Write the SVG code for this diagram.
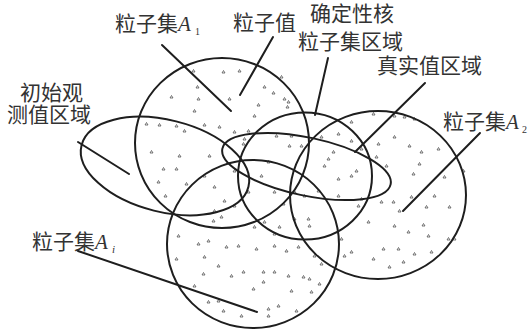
<svg xmlns="http://www.w3.org/2000/svg" width="529" height="333" viewBox="0 0 529 333">
<style>
.r{fill:none;stroke:#1e1e1e;stroke-width:2}
.l{fill:none;stroke:#1e1e1e;stroke-width:2;stroke-linecap:round}
.t{font-family:"Noto Sans CJK SC","Noto Sans CJK JP",sans-serif;font-size:21px;fill:#333}
.a{font-family:"Liberation Serif",serif;font-style:italic;font-size:21px;fill:#333}
.s{font-family:"Liberation Serif",serif;font-size:10px;fill:#333}
.si{font-family:"Liberation Serif",serif;font-style:italic;font-size:11px;fill:#333}
.p{fill:none;stroke:#444;stroke-width:0.7}
</style>
<rect width="529" height="333" fill="#fff"/>
<g id="particles">
<path class="p" d="M192 72l1.5-2.5 1.5 2.5zM222 73l1.5-2.5 1.5 2.5zM238 72l1.5-2.5 1.5 2.5zM280 78l1.5-2.5 1.5 2.5zM196 88l1.5-2.5 1.5 2.5zM170 98l1.5-2.5 1.5 2.5zM197 100l1.5-2.5 1.5 2.5zM228 100l1.5-2.5 1.5 2.5zM263 88l1.5-2.5 1.5 2.5zM272 94l1.5-2.5 1.5 2.5zM283 100l1.5-2.5 1.5 2.5zM287 103l1.5-2.5 1.5 2.5zM286 108l1.5-2.5 1.5 2.5zM193 112l1.5-2.5 1.5 2.5zM253 117l1.5-2.5 1.5 2.5zM257 106l1.5-2.5 1.5 2.5zM145 125l1.5-2.5 1.5 2.5zM158 126l1.5-2.5 1.5 2.5zM175 127l1.5-2.5 1.5 2.5zM203 126l1.5-2.5 1.5 2.5zM218 128l1.5-2.5 1.5 2.5zM233 133l1.5-2.5 1.5 2.5zM247 132l1.5-2.5 1.5 2.5zM150 153l1.5-2.5 1.5 2.5zM178 157l1.5-2.5 1.5 2.5zM208 157l1.5-2.5 1.5 2.5zM183 132l1.5-2.5 1.5 2.5zM162 170l1.5-2.5 1.5 2.5zM175 170l1.5-2.5 1.5 2.5zM185 185l1.5-2.5 1.5 2.5zM157 183l1.5-2.5 1.5 2.5zM203 177l1.5-2.5 1.5 2.5zM213 188l1.5-2.5 1.5 2.5zM223 202l1.5-2.5 1.5 2.5zM164 197l1.5-2.5 1.5 2.5zM233 172l1.5-2.5 1.5 2.5zM213 212l1.5-2.5 1.5 2.5zM212 222l1.5-2.5 1.5 2.5zM220 218l1.5-2.5 1.5 2.5z
M372 115l1.5-2.5 1.5 2.5zM393 117l1.5-2.5 1.5 2.5zM403 118l1.5-2.5 1.5 2.5zM413 120l1.5-2.5 1.5 2.5zM350 123l1.5-2.5 1.5 2.5zM337 135l1.5-2.5 1.5 2.5zM393 138l1.5-2.5 1.5 2.5zM408 147l1.5-2.5 1.5 2.5zM420 153l1.5-2.5 1.5 2.5zM377 145l1.5-2.5 1.5 2.5zM350 142l1.5-2.5 1.5 2.5zM360 150l1.5-2.5 1.5 2.5zM375 158l1.5-2.5 1.5 2.5zM385 167l1.5-2.5 1.5 2.5zM418 165l1.5-2.5 1.5 2.5zM412 175l1.5-2.5 1.5 2.5zM437 150l1.5-2.5 1.5 2.5zM443 178l1.5-2.5 1.5 2.5zM462 172l1.5-2.5 1.5 2.5zM380 203l1.5-2.5 1.5 2.5zM392 203l1.5-2.5 1.5 2.5zM410 198l1.5-2.5 1.5 2.5zM425 208l1.5-2.5 1.5 2.5zM433 197l1.5-2.5 1.5 2.5zM448 208l1.5-2.5 1.5 2.5zM398 212l1.5-2.5 1.5 2.5zM357 207l1.5-2.5 1.5 2.5zM367 223l1.5-2.5 1.5 2.5zM393 227l1.5-2.5 1.5 2.5zM407 233l1.5-2.5 1.5 2.5zM422 226l1.5-2.5 1.5 2.5zM427 237l1.5-2.5 1.5 2.5zM447 240l1.5-2.5 1.5 2.5zM453 240l1.5-2.5 1.5 2.5zM430 253l1.5-2.5 1.5 2.5zM413 255l1.5-2.5 1.5 2.5zM382 250l1.5-2.5 1.5 2.5zM397 250l1.5-2.5 1.5 2.5zM372 260l1.5-2.5 1.5 2.5zM388 268l1.5-2.5 1.5 2.5zM402 263l1.5-2.5 1.5 2.5zM350 253l1.5-2.5 1.5 2.5zM340 240l1.5-2.5 1.5 2.5zM343 257l1.5-2.5 1.5 2.5z
M177 237l1.5-2.5 1.5 2.5zM197 245l1.5-2.5 1.5 2.5zM207 242l1.5-2.5 1.5 2.5zM225 248l1.5-2.5 1.5 2.5zM237 247l1.5-2.5 1.5 2.5zM255 250l1.5-2.5 1.5 2.5zM273 247l1.5-2.5 1.5 2.5zM285 252l1.5-2.5 1.5 2.5zM297 248l1.5-2.5 1.5 2.5zM175 260l1.5-2.5 1.5 2.5zM203 258l1.5-2.5 1.5 2.5zM217 267l1.5-2.5 1.5 2.5zM230 277l1.5-2.5 1.5 2.5zM242 273l1.5-2.5 1.5 2.5zM262 273l1.5-2.5 1.5 2.5zM262 283l1.5-2.5 1.5 2.5zM252 290l1.5-2.5 1.5 2.5zM273 273l1.5-2.5 1.5 2.5zM287 277l1.5-2.5 1.5 2.5zM302 278l1.5-2.5 1.5 2.5zM308 280l1.5-2.5 1.5 2.5zM318 285l1.5-2.5 1.5 2.5zM193 287l1.5-2.5 1.5 2.5zM202 275l1.5-2.5 1.5 2.5zM290 292l1.5-2.5 1.5 2.5zM310 293l1.5-2.5 1.5 2.5zM207 303l1.5-2.5 1.5 2.5zM217 302l1.5-2.5 1.5 2.5zM222 312l1.5-2.5 1.5 2.5zM240 317l1.5-2.5 1.5 2.5zM267 310l1.5-2.5 1.5 2.5zM277 307l1.5-2.5 1.5 2.5zM267 317l1.5-2.5 1.5 2.5zM295 312l1.5-2.5 1.5 2.5zM320 265l1.5-2.5 1.5 2.5zM313 257l1.5-2.5 1.5 2.5z
M267 163l1.5-2.5 1.5 2.5zM290 137l1.5-2.5 1.5 2.5zM275 137l1.5-2.5 1.5 2.5zM243 140l1.5-2.5 1.5 2.5zM242 145l1.5-2.5 1.5 2.5zM300 147l1.5-2.5 1.5 2.5zM288 147l1.5-2.5 1.5 2.5zM260 177l1.5-2.5 1.5 2.5zM273 193l1.5-2.5 1.5 2.5zM282 205l1.5-2.5 1.5 2.5zM293 193l1.5-2.5 1.5 2.5zM303 197l1.5-2.5 1.5 2.5zM317 192l1.5-2.5 1.5 2.5zM337 197l1.5-2.5 1.5 2.5zM360 200l1.5-2.5 1.5 2.5zM307 220l1.5-2.5 1.5 2.5zM308 227l1.5-2.5 1.5 2.5zM293 220l1.5-2.5 1.5 2.5zM263 223l1.5-2.5 1.5 2.5zM253 228l1.5-2.5 1.5 2.5zM273 235l1.5-2.5 1.5 2.5zM278 228l1.5-2.5 1.5 2.5zM327 160l1.5-2.5 1.5 2.5zM337 180l1.5-2.5 1.5 2.5zM355 172l1.5-2.5 1.5 2.5zM350 177l1.5-2.5 1.5 2.5zM332 153l1.5-2.5 1.5 2.5zM320 138l1.5-2.5 1.5 2.5zM323 167l1.5-2.5 1.5 2.5zM247 193l1.5-2.5 1.5 2.5zM233 207l1.5-2.5 1.5 2.5z"/>
</g>
<g id="set-A1">
<ellipse class="r" cx="222" cy="143" rx="87" ry="85"/>
<text class="t" x="115" y="31">粒子集</text><text class="a" x="178" y="31">A</text><text class="s" x="195" y="35">1</text>
</g>
<g id="observation-region">
<ellipse class="r" cx="165" cy="166" rx="86" ry="46" transform="rotate(14 165 166)"/>
<text class="t" x="20" y="100">初始观</text>
<text class="t" x="7" y="122">测值区域</text>
</g>
<g id="core-region">
<ellipse class="r" cx="305" cy="176" rx="67" ry="63.5"/>
<text class="t" x="310" y="21">确定性核</text>
<text class="t" x="298" y="49">粒子集区域</text>
</g>
<g id="set-A2">
<ellipse class="r" cx="378" cy="195" rx="88" ry="84"/>
<text class="t" x="443" y="129">粒子集</text><text class="a" x="506" y="129">A</text><text class="s" x="522" y="133">2</text>
</g>
<g id="set-Ai">
<ellipse class="r" cx="253" cy="244" rx="86" ry="84"/>
<text class="t" x="32" y="249">粒子集</text><text class="a" x="95" y="249">A</text><text class="si" x="112" y="253">i</text>
</g>
<g id="true-region">
<ellipse class="r" cx="306.5" cy="166.5" rx="86" ry="29" transform="rotate(12 306.5 166.5)"/>
<text class="t" x="377" y="73">真实值区域</text>
</g>
<g id="particle-value">
<text class="t" x="233" y="30">粒子值</text>
</g>
<g id="connectors">
<line class="l" x1="162" y1="45" x2="231" y2="111"/>
<line class="l" x1="273" y1="37" x2="240" y2="95"/>
<line class="l" x1="328" y1="58" x2="315" y2="115"/>
<line class="l" x1="425" y1="83" x2="355" y2="152"/>
<line class="l" x1="480" y1="133" x2="403" y2="211"/>
<line class="l" x1="78" y1="251" x2="257" y2="312"/>
<line class="l" x1="78" y1="142" x2="129" y2="174"/>
</g>
</svg>
